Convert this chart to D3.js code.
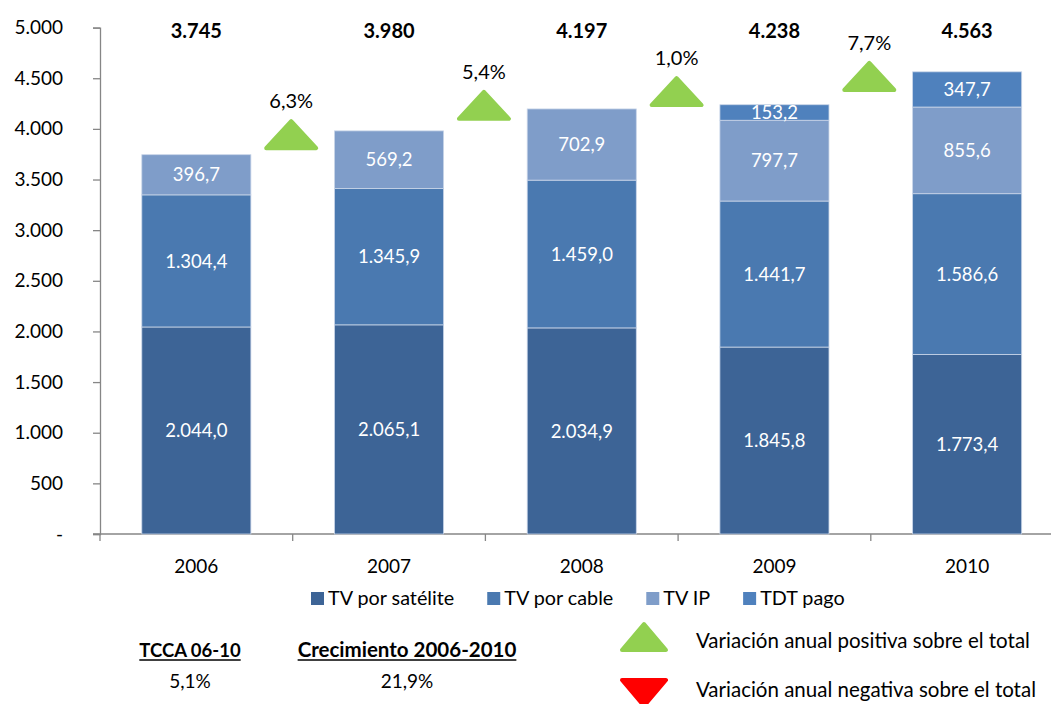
<!DOCTYPE html>
<html>
<head>
<meta charset="utf-8">
<script src="https://cdn.jsdelivr.net/npm/d3@7"></script>
<style>
  html, body { margin: 0; padding: 0; background: #fff; }
  svg { display: block; font-family: Lato, "Open Sans", sans-serif; }
</style>
</head>
<body>
<svg id="chart" width="1051" height="704"></svg>
<script>
// ---- data ----
const years = ["2006", "2007", "2008", "2009", "2010"];
const seriesNames = ["TV por satélite", "TV por cable", "TV IP", "TDT pago"];
const satelite = [2044.0, 2065.1, 2034.9, 1845.8, 1773.4];
const cable = [1304.4, 1345.9, 1459.0, 1441.7, 1586.6];
const tvip = [396.7, 569.2, 702.9, 797.7, 855.6];
const tdtPago = [0, 0, 0, 153.2, 347.7];
const growth = [6.3, 5.4, 1.0, 7.7];              // variación anual (%)
const growthMarkerLevel = [3790, 4080, 4215, 4365]; // data level of marker base
const yTicks = [0, 500, 1000, 1500, 2000, 2500, 3000, 3500, 4000, 4500, 5000];
const tcca = 5.1;
const crecimiento = 21.9;
const colors = ["#3D6496", "#4A79B0", "#7F9DC9", "#4F81BD"];

// ---- setup ----
const esLocale = d3.formatLocale({ decimal: ",", thousands: ".", grouping: [3], currency: ["", "€"] });
const fmt1 = esLocale.format(",.1f");
const fmt0 = esLocale.format(",.0f");

const svg = d3.select("#chart");
const x0 = 100, x1 = 1063.5, yBase = 534, yTop = 27.6;

const x = d3.scaleBand().domain(years).range([x0, x1]).paddingInner(0.434).paddingOuter(0.217);
const y = d3.scaleLinear().domain([0, 5000]).range([yBase, yTop]);

const table = years.map((yr, i) => ({
  year: yr, "TV por satélite": satelite[i], "TV por cable": cable[i], "TV IP": tvip[i], "TDT pago": tdtPago[i]
}));
const stack = d3.stack().keys(seriesNames);
const layers = stack(table);
const totals = years.map((yr, i) => satelite[i] + cable[i] + tvip[i] + tdtPago[i]);

// ---- axes ----
const axisColor = "#868686";
const yAxis = d3.axisLeft(y).tickValues(yTicks).tickSize(7).tickPadding(30)
  .tickFormat(d => d === 0 ? "-" : fmt0(d));
const gy = svg.append("g").attr("transform", `translate(${x0},0)`).call(yAxis);
gy.select(".domain").attr("stroke", axisColor).attr("stroke-width", 1.3);
gy.selectAll(".tick line").attr("stroke", axisColor).attr("stroke-width", 1.3);
gy.selectAll(".tick text").attr("font-size", 19).attr("fill", "#000")
  .attr("font-family", "Lato, sans-serif");

// x axis line
svg.append("line").attr("x1", x0 - 7).attr("x2", 1051).attr("y1", yBase).attr("y2", yBase)
  .attr("stroke", axisColor).attr("stroke-width", 1.3);
// x ticks at category boundaries
const step = x.step();
svg.append("g").selectAll("line").data(d3.range(0, years.length + 1)).join("line")
  .attr("x1", i => x0 + i * step).attr("x2", i => x0 + i * step)
  .attr("y1", yBase).attr("y2", yBase + 7)
  .attr("stroke", axisColor).attr("stroke-width", 1.3);
svg.append("g").selectAll("text").data(years).join("text")
  .attr("x", d => x(d) + x.bandwidth() / 2).attr("y", 573)
  .attr("text-anchor", "middle").attr("font-size", 19).attr("fill", "#000").text(d => d);

// ---- bars ----
const gBars = svg.append("g");
layers.forEach((layer, li) => {
  gBars.append("g").selectAll("rect").data(layer.filter(d => d[1] - d[0] > 0)).join("rect")
    .attr("x", d => x(d.data.year)).attr("width", x.bandwidth())
    .attr("y", d => y(d[1])).attr("height", d => y(d[0]) - y(d[1]))
    .attr("fill", colors[li]).attr("stroke", "#c9d5e8").attr("stroke-width", 0.8);
});
layers.forEach((layer, li) => {
  gBars.append("g").selectAll("text").data(layer.filter(d => d[1] - d[0] > 0)).join("text")
    .attr("x", d => x(d.data.year) + x.bandwidth() / 2)
    .attr("y", d => (y(d[0]) + y(d[1])) / 2)
    .attr("dy", "0.36em").attr("text-anchor", "middle").attr("font-size", 18.5)
    .attr("fill", "#fff").text(d => fmt1(d[1] - d[0]));
});

// totals
svg.append("g").selectAll("text").data(totals).join("text")
  .attr("x", (d, i) => x(years[i]) + x.bandwidth() / 2).attr("y", 38)
  .attr("text-anchor", "middle").attr("font-size", 20).attr("font-weight", "bold")
  .attr("fill", "#000").text(d => fmt0(d));

// ---- growth markers ----
const triW = 50, triH = 27;
const upTri = (cx, by) => `M${cx - triW / 2},${by} L${cx},${by - triH} L${cx + triW / 2},${by} Z`;
const gG = svg.append("g");
growth.forEach((g, i) => {
  const cx = x0 + (i + 1) * step - 1.5;
  const by = y(growthMarkerLevel[i]) - 2;
  gG.append("path").attr("d", upTri(cx, by))
    .attr("fill", g >= 0 ? "#92D050" : "#FF0000")
    .attr("stroke", g >= 0 ? "#92D050" : "#FF0000").attr("stroke-width", 4).attr("stroke-linejoin", "round");
  gG.append("text").attr("x", cx).attr("y", by - triH - 13)
    .attr("text-anchor", "middle").attr("font-size", 20).attr("fill", "#000")
    .text(esLocale.format(".1f")(g) + "%");
});

// ---- legend ----
const gL = svg.append("g");
let lx = 311;
seriesNames.forEach((name, i) => {
  gL.append("rect").attr("x", lx).attr("y", 592).attr("width", 13).attr("height", 13).attr("fill", colors[i]);
  const t = gL.append("text").attr("x", lx + 17).attr("y", 604.5).attr("font-size", 19.8)
    .attr("fill", "#000").text(name);
  lx += 17 + t.node().getComputedTextLength() + 33;
});

// ---- bottom notes ----
const notes = svg.append("g");
[["TCCA 06-10", tcca, 190, 18.5], ["Crecimiento 2006-2010", crecimiento, 407, 20.5]].forEach(([lab, val, cx, fs]) => {
  const t = notes.append("text").attr("x", cx).attr("y", 657).attr("text-anchor", "middle")
    .attr("font-size", fs).attr("font-weight", "bold").attr("fill", "#000").text(lab);
  const w = t.node().getComputedTextLength();
  notes.append("line").attr("x1", cx - w / 2).attr("x2", cx + w / 2).attr("y1", 660).attr("y2", 660)
    .attr("stroke", "#000").attr("stroke-width", 1.5);
  notes.append("text").attr("x", cx).attr("y", 688).attr("text-anchor", "middle")
    .attr("font-size", 19).attr("fill", "#000").text(esLocale.format(".1f")(val) + "%");
});

// marker legend
const mW = 44, mH = 26;
notes.append("path").attr("d", `M${644 - mW / 2},${650} L644,${650 - mH} L${644 + mW / 2},${650} Z`)
  .attr("fill", "#92D050").attr("stroke", "#92D050").attr("stroke-width", 4).attr("stroke-linejoin", "round");
notes.append("path").attr("d", `M${644 - mW / 2},${680} L644,${680 + mH} L${644 + mW / 2},${680} Z`)
  .attr("fill", "#FF0000").attr("stroke", "#FF0000").attr("stroke-width", 4).attr("stroke-linejoin", "round");
notes.append("text").attr("x", 696).attr("y", 648).attr("font-size", 20.5).attr("fill", "#000")
  .text("Variación anual positiva sobre el total");
notes.append("text").attr("x", 696).attr("y", 697).attr("font-size", 20.5).attr("fill", "#000")
  .text("Variación anual negativa sobre el total");
</script>
</body>
</html>
